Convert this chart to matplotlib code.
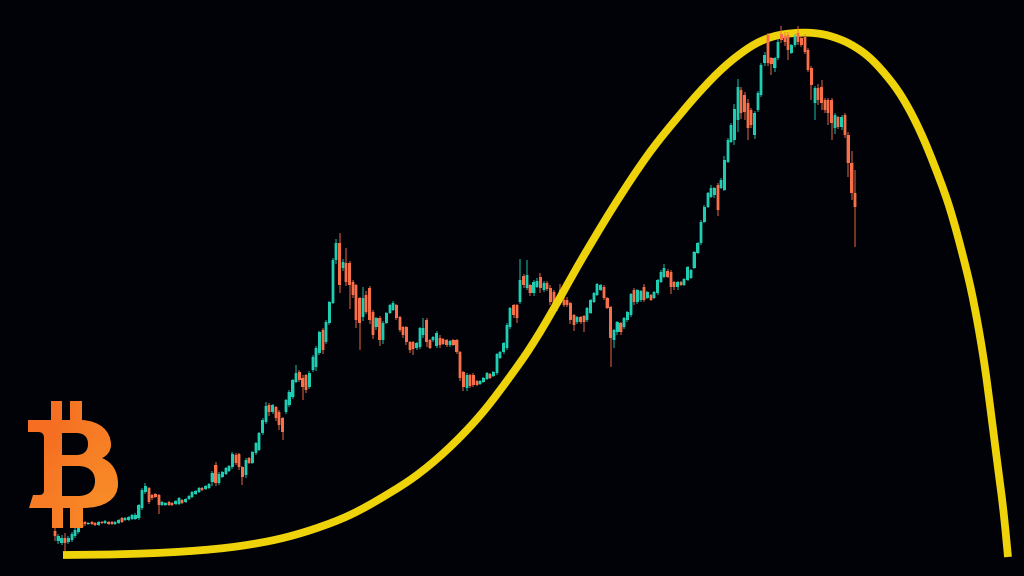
import matplotlib
matplotlib.use('Agg')
import matplotlib.pyplot as plt
from matplotlib.colors import LinearSegmentedColormap
from matplotlib.path import Path
from matplotlib.patches import PathPatch
import numpy as np

# candles, weekly (y runs downward like the image)
opens = [531, 541, 543, 538, 542, 540, 536, 532, 527, 522,
         524, 522, 523, 525, 522, 523, 522, 522, 524, 523,
         518, 520, 520, 519, 519, 518, 508, 492, 488, 495,
         494, 495, 505, 505, 502, 503, 504, 504, 500, 502,
         499, 497, 494, 492, 488, 489, 488, 482, 465, 483,
         477, 474, 471, 467, 455, 454, 467, 475, 458, 463,
         453, 450, 433, 422, 405, 412, 407, 412, 418, 412,
         405, 397, 382, 372, 378, 375, 387, 370, 367, 353,
         330, 342, 323, 303, 260, 243, 268, 263, 263, 282,
         285, 298, 317, 295, 288, 312, 327, 318, 340, 323,
         313, 310, 305, 317, 327, 327, 342, 342, 348, 347,
         335, 320, 340, 340, 346, 338, 339, 340, 345, 340,
         340, 352, 372, 388, 375, 375, 381, 384, 382, 379,
         374, 376, 373, 358, 352, 348, 327, 305, 305, 302,
         276, 288, 285, 293, 287, 277, 290, 283, 288, 292,
         308, 290, 300, 300, 303, 315, 322, 317, 316, 320,
         313, 302, 295, 290, 287, 298, 307, 340, 332, 323,
         327, 320, 315, 290, 302, 300, 287, 298, 295, 298,
         293, 282, 277, 271, 272, 282, 287, 282, 285, 280,
         278, 268, 253, 243, 222, 207, 197, 195, 185, 188,
         190, 162, 142, 140, 120, 90, 95, 103, 110, 135,
         110, 95, 63, 35, 58, 68, 58, 34, 36, 35,
         53, 45, 33, 38, 37, 50, 68, 103, 88, 87,
         100, 100, 100, 128, 117, 127, 115, 135, 163, 193]
closes = [536, 536, 538, 543, 538, 534, 530, 526, 523, 524,
          523, 524, 525, 522, 523, 521, 524, 524, 522, 520,
          522, 518, 517, 515, 515, 505, 490, 486, 502, 498,
          497, 505, 502, 503, 505, 505, 501, 498, 503, 499,
          496, 492, 491, 488, 490, 486, 484, 473, 483, 474,
          472, 468, 466, 454, 463, 467, 477, 460, 463, 452,
          443, 433, 420, 406, 412, 405, 418, 425, 432, 400,
          392, 380, 373, 380, 387, 390, 373, 357, 348, 332,
          350, 322, 302, 260, 243, 285, 262, 282, 285, 295,
          320, 323, 298, 312, 320, 335, 318, 340, 323, 313,
          305, 303, 318, 330, 335, 342, 350, 349, 343, 328,
          328, 342, 348, 337, 333, 345, 344, 345, 341, 345,
          352, 378, 387, 375, 386, 385, 385, 381, 378, 373,
          378, 372, 354, 352, 343, 325, 308, 315, 318, 280,
          285, 275, 293, 282, 281, 288, 283, 289, 302, 303,
          298, 303, 305, 305, 320, 325, 317, 322, 322, 308,
          300, 293, 284, 285, 298, 308, 338, 330, 322, 332,
          318, 312, 294, 302, 290, 291, 300, 292, 300, 292,
          280, 272, 268, 277, 287, 287, 282, 285, 279, 267,
          270, 252, 243, 222, 207, 193, 188, 188, 210, 180,
          160, 140, 125, 109, 87, 113, 112, 128, 125, 113,
          93, 65, 55, 63, 64, 58, 42, 40, 42, 50,
          45, 36, 42, 45, 52, 70, 85, 88, 100, 103,
          110, 113, 123, 115, 127, 117, 135, 163, 193, 207]
upper_wick = [9, 2, 3, 5, 2, 2, 2, 1, 2, 1,
              1, 1, 1, 1, 1, 1, 1, 1, 1, 1,
              1, 1, 1, 1, 2, 1, 2, 3, 1, 1,
              1, 1, 1, 1, 1, 1, 1, 1, 1, 1,
              1, 1, 1, 1, 1, 1, 1, 2, 3, 2,
              1, 1, 1, 2, 2, 1, 1, 2, 1, 1,
              1, 1, 2, 4, 2, 1, 1, 2, 1, 1,
              2, 1, 8, 2, 3, 1, 2, 2, 2, 1,
              2, 2, 1, 2, 4, 10, 3, 15, 2, 2,
              1, 1, 11, 4, 2, 2, 1, 2, 2, 1,
              1, 2, 1, 1, 1, 1, 1, 1, 1, 1,
              10, 2, 1, 1, 2, 3, 1, 1, 1, 1,
              1, 1, 1, 2, 1, 2, 1, 1, 1, 1,
              1, 1, 1, 1, 1, 2, 1, 1, 1, 21,
              2, 15, 1, 2, 3, 4, 2, 2, 3, 2,
              1, 6, 3, 3, 1, 1, 1, 1, 1, 1,
              1, 1, 1, 1, 2, 1, 1, 1, 1, 1,
              1, 1, 1, 2, 1, 1, 3, 1, 1, 1,
              1, 2, 4, 2, 2, 1, 1, 1, 1, 1,
              1, 1, 1, 2, 2, 1, 3, 1, 2, 2,
              4, 2, 2, 5, 8, 3, 3, 4, 2, 2,
              2, 2, 3, 2, 1, 1, 3, 8, 4, 3,
              1, 2, 7, 2, 3, 2, 2, 2, 4, 7,
              2, 2, 2, 2, 1, 2, 2, 3, 12, 23]
lower_wick = [5, 3, 2, 8, 2, 2, 2, 2, 1, 2,
              1, 1, 1, 1, 1, 1, 1, 1, 1, 1,
              1, 1, 1, 1, 1, 2, 2, 2, 2, 2,
              1, 9, 1, 1, 1, 1, 1, 1, 1, 1,
              1, 1, 1, 1, 1, 1, 1, 4, 3, 2,
              1, 1, 1, 2, 2, 3, 8, 3, 1, 1,
              2, 1, 2, 2, 4, 2, 3, 5, 8, 2,
              2, 2, 1, 2, 13, 3, 2, 2, 4, 2,
              4, 2, 2, 1, 4, 8, 3, 4, 24, 3,
              8, 27, 4, 2, 4, 4, 3, 6, 4, 1,
              1, 1, 2, 2, 3, 3, 3, 6, 2, 2,
              3, 5, 1, 2, 2, 3, 1, 2, 2, 1,
              2, 3, 4, 3, 2, 2, 1, 1, 1, 1,
              1, 1, 2, 1, 2, 2, 2, 3, 5, 2,
              3, 2, 3, 3, 1, 5, 2, 2, 3, 3,
              3, 2, 2, 2, 4, 6, 2, 2, 10, 2,
              1, 1, 1, 1, 2, 1, 29, 8, 3, 3,
              2, 2, 2, 3, 2, 2, 2, 1, 1, 1,
              2, 1, 1, 1, 7, 3, 3, 1, 1, 1,
              1, 1, 1, 2, 1, 1, 1, 3, 6, 1,
              1, 1, 1, 5, 12, 6, 8, 12, 3, 4,
              2, 2, 3, 3, 11, 4, 2, 3, 4, 10,
              1, 2, 3, 2, 2, 2, 15, 17, 5, 7,
              3, 12, 17, 6, 2, 3, 3, 14, 7, 40]

# the big yellow arc
curve_x = [63, 110, 167, 215, 250, 283, 317, 350, 383, 417, 450, 483, 517, 537,
           557, 583, 617, 650, 683, 705, 723, 740, 757, 775, 795, 813, 830, 850,
           870, 890, 905, 920, 935, 950, 965, 975, 985, 995, 1003, 1008]
curve_y = [555, 554.5, 552.5, 549, 544.5, 538, 528, 515, 497, 475, 447, 412, 367, 337,
           303, 257, 201, 152, 111, 86, 68, 54, 43, 36, 33, 33, 36, 44,
           58, 80, 102, 131, 167, 209, 264, 309, 368, 445, 507, 557]

background = '#010208'
teal = '#1ECDB2'
orange = '#F8704A'
yellow = '#EFD30A'


def smooth(xs, ys, steps=12):
    # catmull-rom, only so the line has no corners between the read points
    p = np.column_stack([xs, ys]).astype(float)
    p = np.vstack([p[0], p, p[-1]])
    out = []
    for i in range(1, len(p) - 2):
        for t in np.linspace(0, 1, steps, endpoint=False):
            out.append(0.5 * (2 * p[i] + (p[i + 1] - p[i - 1]) * t
                              + (2 * p[i - 1] - 5 * p[i] + 4 * p[i + 1] - p[i + 2]) * t ** 2
                              + (3 * p[i] - p[i - 1] - 3 * p[i + 1] + p[i + 2]) * t ** 3))
    out.append(p[-1])
    out = np.array(out)
    return out[:, 0], out[:, 1]


fig = plt.figure(figsize=(10.24, 5.76), dpi=100, facecolor=background)
ax = fig.add_axes([0, 0, 1, 1], facecolor=background)

o = np.array(opens)
c = np.array(closes)
top = np.minimum(o, c)
bottom = np.maximum(o, c)
x = np.linspace(55, 855, len(o))
colors = np.where(c < o, teal, orange)

# candles near the top sit over the yellow line, the others under it
front = x > 760
for mask, z in ((~front, 2), (front, 4)):
    ax.vlines(x[mask], (top - np.array(upper_wick))[mask], (bottom + np.array(lower_wick))[mask],
              colors=colors[mask], linewidth=1.1, alpha=0.6, zorder=z)
    # soft edge first, the picture is a bit blurred
    ax.bar(x[mask], (bottom - top)[mask], bottom=top[mask], width=3.7,
           color=colors[mask], alpha=0.4, linewidth=0, zorder=z)
    ax.bar(x[mask], (bottom - top)[mask], bottom=top[mask], width=2.4,
           color=colors[mask], linewidth=0, zorder=z)

sx, sy = smooth(curve_x, curve_y)
ax.plot(sx, sy, color=yellow, linewidth=5.6, solid_capstyle='butt', zorder=3)

# bitcoin logo
M, L, C, Z = Path.MOVETO, Path.LINETO, Path.CURVE4, Path.CLOSEPOLY
logo = [
    (M, 28, 420), (L, 51, 420), (L, 51, 401), (L, 62, 401), (L, 62, 420),
    (L, 70, 420), (L, 70, 401), (L, 82, 401), (L, 82, 420),
    (C, 100, 421), (C, 111, 431), (C, 111, 445),
    (C, 111, 451), (C, 107, 456), (C, 102, 458),
    (C, 112, 462), (C, 118, 471), (C, 118, 484),
    (C, 118, 500), (C, 103, 508), (C, 83, 508),
    (L, 83, 528), (L, 70, 528), (L, 70, 508), (L, 63, 508), (L, 63, 528),
    (L, 52, 528), (L, 52, 508), (L, 29, 508), (L, 33, 495), (L, 39, 495),
    (C, 43, 495), (C, 44, 493), (C, 44, 490), (L, 44, 438),
    (C, 44, 434), (C, 42, 432), (C, 38, 432), (L, 28, 432), (Z, 28, 420),
    (M, 62, 433), (L, 62, 455), (L, 76, 455),
    (C, 84, 455), (C, 88, 451), (C, 88, 444),
    (C, 88, 437), (C, 84, 433), (C, 76, 433), (Z, 62, 433),
    (M, 62, 466), (L, 62, 496), (L, 78, 496),
    (C, 88, 496), (C, 95, 491), (C, 95, 481),
    (C, 95, 471), (C, 88, 466), (C, 78, 466), (Z, 62, 466),
]
logo_path = Path([(a, b) for _, a, b in logo], [k for k, _, _ in logo])
logo_patch = PathPatch(logo_path, facecolor='none', edgecolor='none', transform=ax.transData)
ax.add_patch(logo_patch)
# logo gets a bit redder towards the lower left
logo_cmap = LinearSegmentedColormap.from_list('logo', ['#F56E22', '#F98A28'])
ramp = np.array([[0.0, 0.5], [0.5, 1.0]])
img = ax.imshow(ramp, extent=(28, 118, 528, 401), cmap=logo_cmap, aspect='auto',
                interpolation='bilinear', zorder=5)
img.set_clip_path(logo_patch)

ax.set_xlim(0, 1024)
ax.set_ylim(576, 0)
ax.axis('off')

fig.savefig('out.png', dpi=100, facecolor=background)
